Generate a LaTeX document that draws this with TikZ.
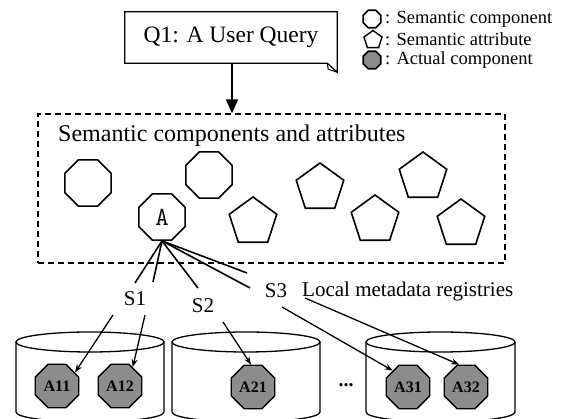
\documentclass[tikz,border=0pt]{standalone}
\usepackage{fontspec}
\setmainfont{Liberation Serif}
\usetikzlibrary{shapes.geometric,arrows.meta}
\begin{document}
\begin{tikzpicture}[x=1pt,y=-1pt,
  oct/.style={regular polygon, regular polygon sides=8, draw, line width=1.6pt, minimum size=50pt, inner sep=0pt},
  pent/.style={regular polygon, regular polygon sides=5, draw, line width=1.6pt, minimum size=50pt, inner sep=0pt},
  actual/.style={regular polygon, regular polygon sides=8, draw, line width=1.4pt, fill=black!45, minimum size=47pt, inner sep=0pt, font=\fontsize{16}{18}\selectfont\bfseries},
  lbl/.style={font=\fontsize{21}{25}\selectfont, inner sep=0pt},
  legtext/.style={font=\fontsize{18.5}{21}\selectfont, inner sep=0pt, anchor=west},
  link/.style={line width=1.6pt},
  arr/.style={line width=1.3pt, -{Stealth[length=8pt,width=6pt]}},
  cyl/.style={line width=1.3pt}
]
\useasboundingbox (0,0) rectangle (571,419);

% query box
\node[minimum width=212pt, minimum height=51pt, inner sep=0pt, font=\fontsize{23.5}{28}\selectfont] (q) at (231,37.5) {Q1: A User Query};
\draw[line width=1.3pt] (q.north west) -- (q.north east) -- ([yshift=-9pt]q.south east) -- ([xshift=-10pt]q.south east) -- (q.south west) -- cycle;
\draw[line width=1pt] ([xshift=-10pt]q.south east) -- ([xshift=-9pt,yshift=-6pt]q.south east) -- ([yshift=-9pt]q.south east);

% dashed region
\node[draw, line width=1.3pt, dash pattern=on 6pt off 4pt, minimum width=467pt, minimum height=149pt, inner sep=0pt] (sc) at (271.5,188.5) {};
\node[anchor=base west, inner sep=0pt, font=\fontsize{24}{28}\selectfont] (title) at (58,142) {Semantic components and attributes};
\draw[line width=1.5pt, -{Triangle[length=14pt,width=12pt]}] (q.south -| 232,0) -- (sc.north -| 232,0);

% semantic components / attributes
\node[oct] (o1) at (88,183) {};
\node[oct] (o2) at (209,175) {};
\node[oct, font=\ttfamily\fontsize{26}{28}\selectfont] (A) at (162,217) {A};
\node[pent] (p1) at (320,188) {};
\node[pent] (p2) at (253,222) {};
\node[pent] (p3) at (423,177) {};
\node[pent] (p4) at (375,220) {};
\node[pent] (p5) at (461,224) {};

% legend
\node[oct, minimum size=19pt, line width=1.6pt] (lg1) at (372,19) {};
\node[legtext] (lt1) at (385,19) {: Semantic component};
\node[pent, minimum size=19pt, line width=1.4pt] (lg2) at (373,40) {};
\node[legtext] (lt2) at (385,39) {: Semantic attribute};
\node[oct, minimum size=19pt, line width=1.6pt, fill=black!45] (lg3) at (372,60) {};
\node[legtext] (lt3) at (385,60) {: Actual component};

% links from A
\coordinate (s1a) at (135,283);
\coordinate (s1b) at (153,282);
\coordinate (s2a) at (198,288);
\coordinate (s3a) at (247,273);
\coordinate (s3b) at (250,288);
\foreach \c in {s1a,s1b,s2a,s3a,s3b} \draw[link] (A.south) -- (\c);

\node[lbl] (S1) at (135,299) {S1};
\node[lbl] (S2) at (203,306) {S2};
\node[lbl] (S3) at (276,291) {S3};
\node[lbl, anchor=west] (loc) at (302,291) {Local metadata registries};

% cylinders
\begin{scope}
\clip (0,0) rectangle (571,419);
\foreach \l/\r in {16/164, 172/320, 366/515}{
  \draw[cyl] ({(\l+\r)/2},342) ellipse [x radius={(\r-\l)/2*1pt}, y radius=10pt];
  \draw[cyl] (\l,342) -- (\l,412) arc[start angle=180, end angle=360, x radius={(\r-\l)/2*1pt}, y radius=10pt] -- (\r,342);
}
\end{scope}

% actual components
\node[actual] (a11) at (57,386) {A11};
\node[actual] (a12) at (120,386) {A12};
\node[actual] (a21) at (253,387) {A21};
\node[font=\fontsize{20}{22}\selectfont\bfseries, inner sep=0pt] (dots) at (346,385) {...};
\node[actual] (a31) at (408,387) {A31};
\node[actual] (a32) at (466,387) {A32};

% arrows to actual components
\coordinate (t11) at (113,315);
\coordinate (t12) at (145,315);
\coordinate (t21) at (223,322);
\coordinate (t31) at (282,307);
\coordinate (t32) at (305,298);
\draw[arr] (t11) -- (a11.37);
\draw[arr] (t12) -- (a12.56);
\draw[arr] (t21) -- (a21.95);
\draw[arr] (t31) -- (a31.133);
\draw[arr] (t32) -- (a32.107);
\end{tikzpicture}
\end{document}
